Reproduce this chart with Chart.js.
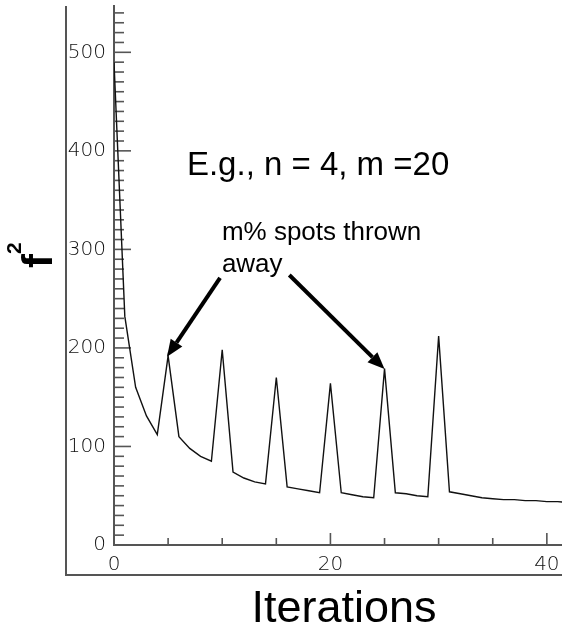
<!DOCTYPE html>
<html>
<head>
<meta charset="utf-8">
<script src="https://cdn.jsdelivr.net/npm/chart.js@4.4.1/dist/chart.umd.min.js"></script>
<style>
  html, body { margin: 0; padding: 0; background: #fff; }
  canvas { display: block; }
</style>
</head>
<body>
<canvas id="chart" width="562" height="629"></canvas>
<script>
// f^2 per iteration (n = 4, m = 20): spots thrown away every 5 iterations
const iterations = [
  0, 1, 2, 3, 4, 5, 6, 7, 8, 9, 10, 11, 12, 13, 14, 15, 16, 17, 18, 19, 20,
  21, 22, 23, 24, 25, 26, 27, 28, 29, 30, 31, 32, 33, 34, 35, 36, 37, 38, 39, 40, 41, 42
]
const fSquared = [
  490, 232, 160, 131, 112, 192, 110, 98, 90, 85, 198, 74, 68, 64, 62, 170, 59, 57, 55, 53, 164,
  53, 51, 49, 48, 179, 53, 52, 50, 49, 212, 54, 52, 50, 48, 47, 46, 46, 45, 45, 44, 44, 43
]
const xTickLabels = [0, 20, 40]
const yTickLabels = [0, 100, 200, 300, 400, 500]

// annotation anchors, in data units
const noteTitle = { text: "E.g., n = 4, m =20", x: 6.74, y: 375 }
const noteLines = [
  { text: "m% spots thrown", x: 9.97, y: 310 },
  { text: "away", x: 9.97, y: 277 }
]
const arrows = [
  { from: [9.8, 271], to: [4.9, 191] },
  { from: [16.2, 274], to: [25.0, 178.5] }
]

const axisColor = "#555"
const tickFont = { family: "DejaVu Sans", size: 20, weight: "200" }

const decor = {
  id: "decor",
  beforeDatasetsDraw(chart) {
    const { ctx, chartArea: a, scales: { x, y } } = chart
    ctx.save()
    ctx.strokeStyle = axisColor
    ctx.lineWidth = 1.6
    // inward ticks
    y.ticks.forEach((t) => {
      if (t.value === 0) return
      const len = yTickLabels.includes(t.value) ? 17 : 10
      const py = y.getPixelForValue(t.value)
      ctx.beginPath()
      ctx.moveTo(a.left, py)
      ctx.lineTo(a.left + len, py)
      ctx.stroke()
    })
    x.ticks.forEach((t) => {
      if (t.value === 0) return
      const len = xTickLabels.includes(t.value) ? 12 : 7
      const px = x.getPixelForValue(t.value)
      ctx.beginPath()
      ctx.moveTo(px, a.bottom)
      ctx.lineTo(px, a.bottom - len)
      ctx.stroke()
    })
    // outer frame
    const fx = a.left - 48
    const fy = a.bottom + 30
    ctx.lineWidth = 2
    ctx.beginPath()
    ctx.moveTo(fx, a.top)
    ctx.lineTo(fx, fy)
    ctx.lineTo(chart.width, fy)
    ctx.stroke()
    ctx.restore()
  },
  afterDraw(chart) {
    const { ctx, chartArea: a, scales: { x, y } } = chart
    ctx.save()
    ctx.fillStyle = "#000"
    ctx.textBaseline = "alphabetic"

    // y title f²
    ctx.save()
    ctx.translate(a.left - 62, y.getPixelForValue(281))
    ctx.rotate(-Math.PI / 2)
    ctx.font = "bold 42px 'Liberation Sans', Arial, sans-serif"
    ctx.fillText("f", 0, 0)
    ctx.font = "bold 21px 'Liberation Sans', Arial, sans-serif"
    ctx.fillText("2", 14, -31)
    ctx.restore()

    // x title
    ctx.font = "45px 'Liberation Sans', Arial, sans-serif"
    ctx.textAlign = "center"
    ctx.fillText("Iterations", (a.left + a.right) / 2 + 6, a.bottom + 77)

    // notes
    ctx.textAlign = "left"
    ctx.font = "33px 'Liberation Sans', Arial, sans-serif"
    ctx.fillText(noteTitle.text, x.getPixelForValue(noteTitle.x), y.getPixelForValue(noteTitle.y))
    ctx.font = "26px 'Liberation Sans', Arial, sans-serif"
    noteLines.forEach((n) => ctx.fillText(n.text, x.getPixelForValue(n.x), y.getPixelForValue(n.y)))

    // arrows
    ctx.strokeStyle = "#000"
    ctx.lineWidth = 4
    arrows.forEach((ar) => {
      const x0 = x.getPixelForValue(ar.from[0]), y0 = y.getPixelForValue(ar.from[1])
      const x1 = x.getPixelForValue(ar.to[0]), y1 = y.getPixelForValue(ar.to[1])
      const ang = Math.atan2(y1 - y0, x1 - x0)
      const head = 17, half = 7
      const bx = x1 - head * Math.cos(ang), by = y1 - head * Math.sin(ang)
      ctx.beginPath()
      ctx.moveTo(x0, y0)
      ctx.lineTo(bx, by)
      ctx.stroke()
      ctx.beginPath()
      ctx.moveTo(x1, y1)
      ctx.lineTo(bx + half * Math.sin(ang), by - half * Math.cos(ang))
      ctx.lineTo(bx - half * Math.sin(ang), by + half * Math.cos(ang))
      ctx.closePath()
      ctx.fill()
    })
    ctx.restore()
  }
}

new Chart(document.getElementById("chart"), {
  type: "line",
  data: {
    datasets: [{
      data: iterations.map((it, i) => ({ x: it, y: fSquared[i] })),
      borderColor: "#111",
      borderWidth: 1.4,
      pointRadius: 0,
      tension: 0,
      fill: false
    }]
  },
  options: {
    responsive: false,
    animation: false,
    layout: { padding: { top: 6, right: 0, left: 0, bottom: 0 } },
    plugins: { legend: { display: false }, tooltip: { enabled: false } },
    scales: {
      x: {
        type: "linear",
        min: 0,
        max: 41.4,
        afterFit: (s) => { s.height = 84; s.paddingLeft = 0; s.paddingRight = 0 },
        border: { color: axisColor, width: 2 },
        grid: { display: false, drawTicks: false },
        ticks: {
          stepSize: 5,
          includeBounds: false,
          autoSkip: false,
          maxRotation: 0,
          padding: 8,
          color: "#111",
          font: tickFont,
          callback: (v) => (xTickLabels.includes(v) ? String(v) : "")
        }
      },
      y: {
        min: 0,
        max: 547,
        afterFit: (s) => { s.width = 114; s.paddingTop = 0; s.paddingBottom = 0 },
        border: { color: axisColor, width: 2 },
        grid: { display: false, drawTicks: false },
        ticks: {
          stepSize: 10,
          includeBounds: false,
          autoSkip: false,
          padding: 8,
          color: "#111",
          font: tickFont,
          callback: (v) => (yTickLabels.includes(v) ? String(v) : "")
        }
      }
    }
  },
  plugins: [decor]
})
</script>
</body>
</html>
